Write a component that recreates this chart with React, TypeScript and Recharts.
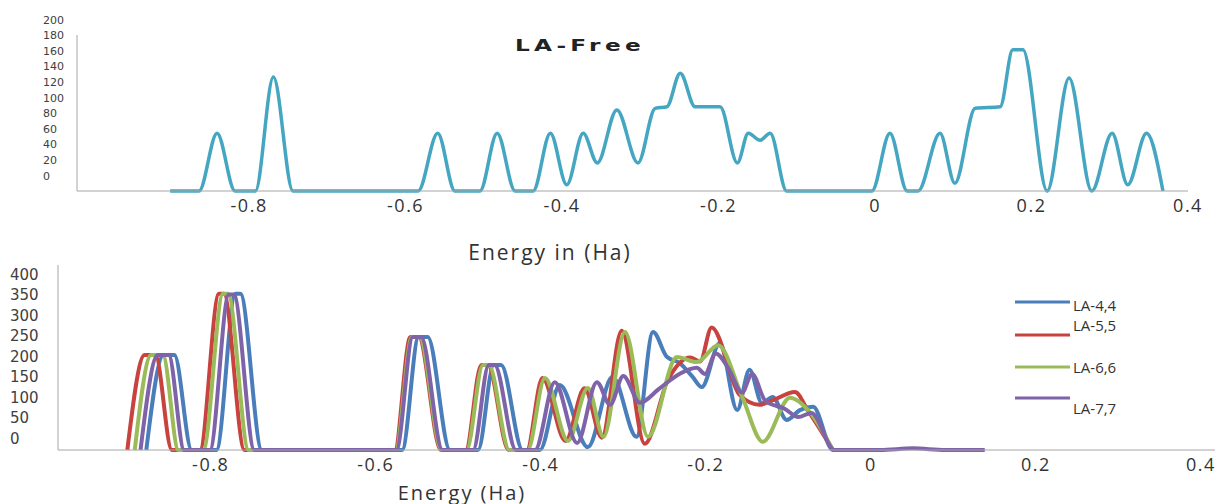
import React from "react";
import { LineChart, Line, XAxis, YAxis, Legend } from "recharts";

// Energy (Ha) / density pairs
const laFree: [number, number][] = [
  [-0.901, 0], [-0.864, 0], [-0.841, 74], [-0.818, 0], [-0.792, 0], [-0.769, 146], [-0.744, 0],
  [-0.584, 0], [-0.559, 74], [-0.537, 0], [-0.505, 0], [-0.483, 74], [-0.46, 0], [-0.437, 0],
  [-0.415, 74], [-0.394, 8], [-0.373, 74], [-0.355, 36], [-0.33, 104], [-0.303, 36], [-0.281, 106],
  [-0.266, 108], [-0.249, 151], [-0.23, 108], [-0.198, 108], [-0.176, 36], [-0.162, 74], [-0.147, 65],
  [-0.134, 74], [-0.113, 0], [-0.004, 0], [0.019, 74], [0.041, 0], [0.055, 0], [0.083, 74],
  [0.102, 10], [0.128, 106], [0.16, 108], [0.176, 181], [0.189, 181], [0.22, 0], [0.248, 145],
  [0.277, 0], [0.303, 74], [0.323, 8], [0.347, 74], [0.368, 0],
];

const la44: [number, number][] = [
  [-0.878, 0], [-0.857, 231], [-0.844, 231], [-0.823, 0], [-0.793, 0], [-0.77, 380], [-0.764, 380], [-0.738, 0],
  [-0.568, 0], [-0.548, 275], [-0.537, 275], [-0.51, 0], [-0.476, 0], [-0.457, 207], [-0.448, 207], [-0.422, 0],
  [-0.401, 0], [-0.377, 158], [-0.343, 7], [-0.313, 178], [-0.284, 32], [-0.264, 287], [-0.247, 226],
  [-0.232, 212], [-0.216, 178], [-0.205, 153], [-0.183, 260], [-0.162, 97], [-0.147, 195], [-0.132, 114],
  [-0.119, 129], [-0.102, 73], [-0.086, 97], [-0.07, 105], [-0.046, 0], [-0.038, 0],
];

const la55: [number, number][] = [
  [-0.901, 0], [-0.88, 231], [-0.867, 231], [-0.847, 0], [-0.813, 0], [-0.79, 380], [-0.784, 380], [-0.759, 0],
  [-0.577, 0], [-0.558, 275], [-0.548, 275], [-0.521, 0], [-0.491, 0], [-0.472, 207], [-0.464, 207], [-0.439, 0],
  [-0.417, 0], [-0.398, 175], [-0.37, 22], [-0.347, 150], [-0.326, 30], [-0.302, 290], [-0.274, 15],
  [-0.246, 170], [-0.219, 225], [-0.207, 215], [-0.193, 298], [-0.159, 134], [-0.135, 110], [-0.12, 120],
  [-0.092, 141], [-0.076, 95], [-0.046, 0],
];

const la66: [number, number][] = [
  [-0.892, 0], [-0.872, 231], [-0.858, 231], [-0.839, 0], [-0.809, 0], [-0.785, 380], [-0.779, 380], [-0.754, 0],
  [-0.576, 0], [-0.556, 275], [-0.547, 275], [-0.52, 0], [-0.49, 0], [-0.47, 207], [-0.463, 207], [-0.438, 0],
  [-0.416, 0], [-0.395, 175], [-0.367, 22], [-0.343, 151], [-0.324, 32], [-0.298, 287], [-0.27, 32],
  [-0.235, 226], [-0.211, 214], [-0.185, 255], [-0.156, 130], [-0.131, 20], [-0.098, 127], [-0.076, 97],
  [-0.046, 0],
];

const la77: [number, number][] = [
  [-0.885, 0], [-0.864, 231], [-0.851, 231], [-0.832, 0], [-0.801, 0], [-0.778, 378], [-0.772, 378], [-0.747, 0],
  [-0.575, 0], [-0.555, 275], [-0.545, 275], [-0.519, 0], [-0.482, 0], [-0.463, 207], [-0.456, 207], [-0.43, 0],
  [-0.407, 0], [-0.383, 165], [-0.356, 17], [-0.332, 165], [-0.316, 110], [-0.3, 180], [-0.28, 115],
  [-0.256, 150], [-0.232, 185], [-0.211, 200], [-0.201, 185], [-0.188, 235], [-0.173, 200], [-0.156, 140],
  [-0.144, 185], [-0.128, 120], [-0.104, 100], [-0.088, 80], [-0.072, 90], [-0.044, 0], [0.011, 0],
  [0.051, 4], [0.09, 0], [0.138, 0],
];

const xTicks = [-0.8, -0.6, -0.4, -0.2, 0, 0.2, 0.4];
const topYTicks = [0, 20, 40, 60, 80, 100, 120, 140, 160, 180, 200];
const bottomYTicks = [0, 50, 100, 150, 200, 250, 300, 350, 400];

const toPoints = (pairs: [number, number][]) => pairs.map(([x, y]) => ({ x, y }));

const axisGray = "#a6a6a6";
const tickFont = { fontSize: 18, fill: "#333", fontFamily: "Open Sans", letterSpacing: 1.5 };

// y labels sit left-aligned and a little above their gridline in the original
const YTick = (props: any) => {
  const { y, payload, left, shift, size } = props;
  return (
    <text x={left} y={y + shift} fontSize={size} fill="#404040" fontFamily="DejaVu Sans" dominantBaseline="central">
      {payload.value}
    </text>
  );
};

// legend rows are not evenly aligned in the picture
const legendRows = [
  { line: 12, text: 15 },
  { line: 45, text: 35 },
  { line: 77, text: 77 },
  { line: 108, text: 118 },
];

const renderLegend = (props: any) => {
  const { payload = [] } = props;
  return (
    <svg width={170} height={130}>
      {payload.map((p: any, i: number) => (
        <g key={p.value}>
          <line x1={5} x2={60} y1={legendRows[i].line} y2={legendRows[i].line} stroke={p.color} strokeWidth={3} />
          <text x={63} y={legendRows[i].text} fontSize={15} fill="#333" fontFamily="Open Sans" dominantBaseline="central">
            {p.value}
          </text>
        </g>
      ))}
    </svg>
  );
};

const textStyle: React.CSSProperties = {
  position: "absolute",
  fontFamily: "Open Sans",
  color: "#333",
  whiteSpace: "nowrap",
  transform: "translate(-50%, -50%)",
};

export default function App() {
  return (
    <div style={{ position: "absolute", left: 0, top: 0, width: 1223, height: 504, background: "#fff" }}>
      <div style={{ position: "absolute", left: 0, top: 0 }}>
        <LineChart width={1223} height={240} margin={{ top: 35, right: 35, bottom: 0, left: 0 }}>
          <XAxis
            type="number"
            dataKey="x"
            domain={[-1.02, 0.4]}
            ticks={xTicks}
            interval={0}
            allowDataOverflow
            height={49}
            tickLine={false}
            axisLine={{ stroke: axisGray }}
            tick={tickFont}
          />
          <YAxis
            type="number"
            domain={[0, 200]}
            ticks={topYTicks}
            interval={0}
            width={77}
            tickLine={false}
            axisLine={{ stroke: axisGray }}
            tick={<YTick left={43} shift={-15} size={11} />}
          />
          <Line
            data={toPoints(laFree)}
            name="LA-Free"
            type="monotone"
            dataKey="y"
            stroke="#45a6c2"
            strokeWidth={3.5}
            dot={false}
            isAnimationActive={false}
          />
        </LineChart>
      </div>

      <div style={{ position: "absolute", left: 0, top: 250 }}>
        <LineChart width={1223} height={254} margin={{ top: 15, right: 8, bottom: 0, left: 0 }}>
          <XAxis
            type="number"
            dataKey="x"
            domain={[-0.985, 0.417]}
            ticks={xTicks}
            interval={0}
            allowDataOverflow
            height={54}
            tickLine={false}
            axisLine={{ stroke: axisGray }}
            tick={tickFont}
          />
          <YAxis
            type="number"
            domain={[0, 450]}
            ticks={bottomYTicks}
            interval={0}
            width={58}
            tickLine={false}
            axisLine={{ stroke: axisGray }}
            tick={<YTick left={10} shift={-11} size={15} />}
          />
          <Legend
            layout="vertical"
            align="center"
            verticalAlign="middle"
            content={renderLegend}
            wrapperStyle={{ position: "absolute", left: 1010, top: 40, width: 170, height: 130 }}
          />
          <Line data={toPoints(la44)} name="LA-4,4" type="monotone" dataKey="y" stroke="#4a7ebb" strokeWidth={4} dot={false} isAnimationActive={false} />
          <Line data={toPoints(la55)} name="LA-5,5" type="monotone" dataKey="y" stroke="#c8423f" strokeWidth={4} dot={false} isAnimationActive={false} />
          <Line data={toPoints(la66)} name="LA-6,6" type="monotone" dataKey="y" stroke="#9bbb59" strokeWidth={4} dot={false} isAnimationActive={false} />
          <Line data={toPoints(la77)} name="LA-7,7" type="monotone" dataKey="y" stroke="#7f63a8" strokeWidth={4} dot={false} isAnimationActive={false} />
        </LineChart>
      </div>

      <div
        style={{
          ...textStyle,
          left: 580,
          top: 45,
          fontFamily: "DejaVu Sans",
          fontWeight: "bold",
          fontSize: 16,
          letterSpacing: 3,
          color: "#222",
          transform: "translate(-50%, -50%) scaleX(1.45)",
        }}
      >
        LA-Free
      </div>
      <div style={{ ...textStyle, left: 550, top: 252, fontSize: 21, letterSpacing: 2 }}>Energy in (Ha)</div>
      <div style={{ ...textStyle, left: 462, top: 492, fontSize: 20, letterSpacing: 2 }}>Energy (Ha)</div>
    </div>
  );
}
